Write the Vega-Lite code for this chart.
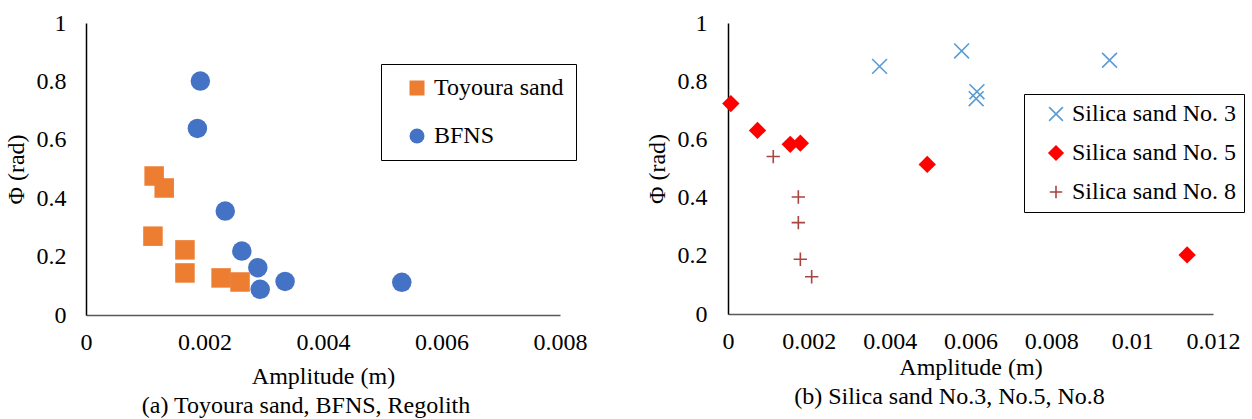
{
  "$schema": "https://vega.github.io/schema/vega-lite/v6.json",
  "background": "white",
  "padding": {"left": 4, "top": 11, "right": 5, "bottom": 5},
  "bounds": "flush",
  "spacing": 168,
  "resolve": {
    "scale": {"color": "independent", "shape": "independent", "fill": "independent", "stroke": "independent"},
    "legend": {"color": "independent", "shape": "independent", "fill": "independent", "stroke": "independent"}
  },
  "config": {
    "font": "Liberation Serif",
    "view": {"stroke": null},
    "axis": {
      "grid": false,
      "ticks": false,
      "labelFont": "Liberation Serif",
      "labelFontSize": 24,
      "labelColor": "#000",
      "labelFlush": false,
      "labelOverlap": false,
      "titleFont": "Liberation Serif",
      "titleFontSize": 24,
      "titleFontWeight": "normal",
      "titleColor": "#000",
      "domainWidth": 1.5
    },
    "axisX": {"domainColor": "#595959", "labelPadding": 15, "titlePadding": 10},
    "axisY": {"domainColor": "#000", "labelPadding": 20, "titlePadding": 8},
    "legend": {
      "labelFont": "Liberation Serif",
      "labelFontSize": 24,
      "labelColor": "#000",
      "labelLimit": 400,
      "strokeColor": "#000",
      "fillColor": "white",
      "title": null
    },
    "title": {"font": "Liberation Serif", "fontSize": 24, "fontWeight": "normal", "color": "#000"}
  },
  "hconcat": [
    {
      "width": 474,
      "height": 292,
      "title": {"text": "(a) Toyoura sand, BFNS, Regolith", "orient": "bottom", "dx": -17, "offset": 6},
      "data": {
        "values": [
          {"sample": "Toyoura sand", "amplitude": 0.00115, "phi": 0.476},
          {"sample": "Toyoura sand", "amplitude": 0.00132, "phi": 0.435},
          {"sample": "Toyoura sand", "amplitude": 0.00113, "phi": 0.27},
          {"sample": "Toyoura sand", "amplitude": 0.00167, "phi": 0.223},
          {"sample": "Toyoura sand", "amplitude": 0.00167, "phi": 0.144},
          {"sample": "Toyoura sand", "amplitude": 0.00228, "phi": 0.127},
          {"sample": "Toyoura sand", "amplitude": 0.0026, "phi": 0.113},
          {"sample": "BFNS", "amplitude": 0.00193, "phi": 0.801},
          {"sample": "BFNS", "amplitude": 0.00188, "phi": 0.639},
          {"sample": "BFNS", "amplitude": 0.00235, "phi": 0.356},
          {"sample": "BFNS", "amplitude": 0.00263, "phi": 0.219},
          {"sample": "BFNS", "amplitude": 0.0029, "phi": 0.162},
          {"sample": "BFNS", "amplitude": 0.00294, "phi": 0.088},
          {"sample": "BFNS", "amplitude": 0.00336, "phi": 0.115},
          {"sample": "BFNS", "amplitude": 0.00533, "phi": 0.112}
        ]
      },
      "mark": {"type": "point", "filled": true, "opacity": 1, "size": 380},
      "encoding": {
        "x": {
          "field": "amplitude",
          "type": "quantitative",
          "scale": {"domain": [0, 0.008], "nice": false},
          "axis": {"title": "Amplitude (m)", "values": [0, 0.002, 0.004, 0.006, 0.008], "format": "~g"}
        },
        "y": {
          "field": "phi",
          "type": "quantitative",
          "scale": {"domain": [0, 1], "nice": false},
          "axis": {"title": "Φ (rad)", "values": [0, 0.2, 0.4, 0.6, 0.8, 1], "format": "~g"}
        },
        "color": {
          "field": "sample",
          "type": "nominal",
          "scale": {"domain": ["Toyoura sand", "BFNS"], "range": ["#ED7D31", "#4472C4"]},
          "legend": {
            "orient": "none",
            "legendX": 295,
            "legendY": 41,
            "padding": 12,
            "symbolOffset": 12,
            "rowPadding": 24,
            "labelOffset": 5,
            "symbolSize": 225,
            "symbolStrokeWidth": 0
          }
        },
        "shape": {
          "field": "sample",
          "type": "nominal",
          "scale": {"domain": ["Toyoura sand", "BFNS"], "range": ["square", "circle"]},
          "legend": {
            "orient": "none",
            "legendX": 295,
            "legendY": 41,
            "padding": 12,
            "symbolOffset": 12,
            "rowPadding": 24,
            "labelOffset": 5,
            "symbolSize": 225,
            "symbolStrokeWidth": 0
          }
        }
      }
    },
    {
      "width": 485,
      "height": 291,
      "title": {"text": "(b) Silica sand No.3, No.5, No.8", "orient": "bottom", "dx": -21, "offset": 6},
      "data": {
        "values": [
          {"sample": "Silica sand No. 3", "amplitude": 0.00375, "phi": 0.851},
          {"sample": "Silica sand No. 3", "amplitude": 0.00578, "phi": 0.904},
          {"sample": "Silica sand No. 3", "amplitude": 0.00944, "phi": 0.872},
          {"sample": "Silica sand No. 3", "amplitude": 0.00616, "phi": 0.764},
          {"sample": "Silica sand No. 3", "amplitude": 0.00614, "phi": 0.74},
          {"sample": "Silica sand No. 5", "amplitude": 0.00007, "phi": 0.723},
          {"sample": "Silica sand No. 5", "amplitude": 0.00073, "phi": 0.631},
          {"sample": "Silica sand No. 5", "amplitude": 0.00154, "phi": 0.583},
          {"sample": "Silica sand No. 5", "amplitude": 0.00179, "phi": 0.587},
          {"sample": "Silica sand No. 5", "amplitude": 0.00493, "phi": 0.514},
          {"sample": "Silica sand No. 5", "amplitude": 0.01136, "phi": 0.203},
          {"sample": "Silica sand No. 8", "amplitude": 0.00112, "phi": 0.541},
          {"sample": "Silica sand No. 8", "amplitude": 0.00174, "phi": 0.402},
          {"sample": "Silica sand No. 8", "amplitude": 0.00174, "phi": 0.314},
          {"sample": "Silica sand No. 8", "amplitude": 0.00179, "phi": 0.188},
          {"sample": "Silica sand No. 8", "amplitude": 0.00207, "phi": 0.128}
        ]
      },
      "mark": {"type": "point", "opacity": 1, "strokeWidth": 1.6, "size": 220},
      "encoding": {
        "x": {
          "field": "amplitude",
          "type": "quantitative",
          "scale": {"domain": [0, 0.012], "nice": false},
          "axis": {"title": "Amplitude (m)", "values": [0, 0.002, 0.004, 0.006, 0.008, 0.01, 0.012], "format": "~g", "titlePadding": 2}
        },
        "y": {
          "field": "phi",
          "type": "quantitative",
          "scale": {"domain": [0, 1], "nice": false},
          "axis": {"title": "Φ (rad)", "values": [0, 0.2, 0.4, 0.6, 0.8, 1], "format": "~g", "labelPadding": 21}
        },
        "shape": {
          "field": "sample",
          "type": "nominal",
          "scale": {
            "domain": ["Silica sand No. 3", "Silica sand No. 5", "Silica sand No. 8"],
            "range": ["M-1,-1L1,1M-1,1L1,-1", "M-1.17,0L0,-1.17L1.17,0L0,1.17Z", "M-0.9,0L0.9,0M0,-0.9L0,0.9"]
          },
          "legend": {
            "orient": "none",
            "legendX": 296,
            "legendY": 71,
            "padding": 8,
            "symbolOffset": 12,
            "rowPadding": 15,
            "labelOffset": 4,
            "symbolSize": 190,
            "symbolStrokeWidth": 1.6
          }
        },
        "fill": {
          "field": "sample",
          "type": "nominal",
          "scale": {
            "domain": ["Silica sand No. 3", "Silica sand No. 5", "Silica sand No. 8"],
            "range": ["transparent", "#FF0000", "transparent"]
          },
          "legend": {
            "orient": "none",
            "legendX": 296,
            "legendY": 71,
            "padding": 8,
            "symbolOffset": 12,
            "rowPadding": 15,
            "labelOffset": 4,
            "symbolSize": 190,
            "symbolStrokeWidth": 1.6
          }
        },
        "stroke": {
          "field": "sample",
          "type": "nominal",
          "scale": {
            "domain": ["Silica sand No. 3", "Silica sand No. 5", "Silica sand No. 8"],
            "range": ["#5B9BD5", "transparent", "#A94442"]
          },
          "legend": {
            "orient": "none",
            "legendX": 296,
            "legendY": 71,
            "padding": 8,
            "symbolOffset": 12,
            "rowPadding": 15,
            "labelOffset": 4,
            "symbolSize": 190,
            "symbolStrokeWidth": 1.6
          }
        }
      }
    }
  ]
}
